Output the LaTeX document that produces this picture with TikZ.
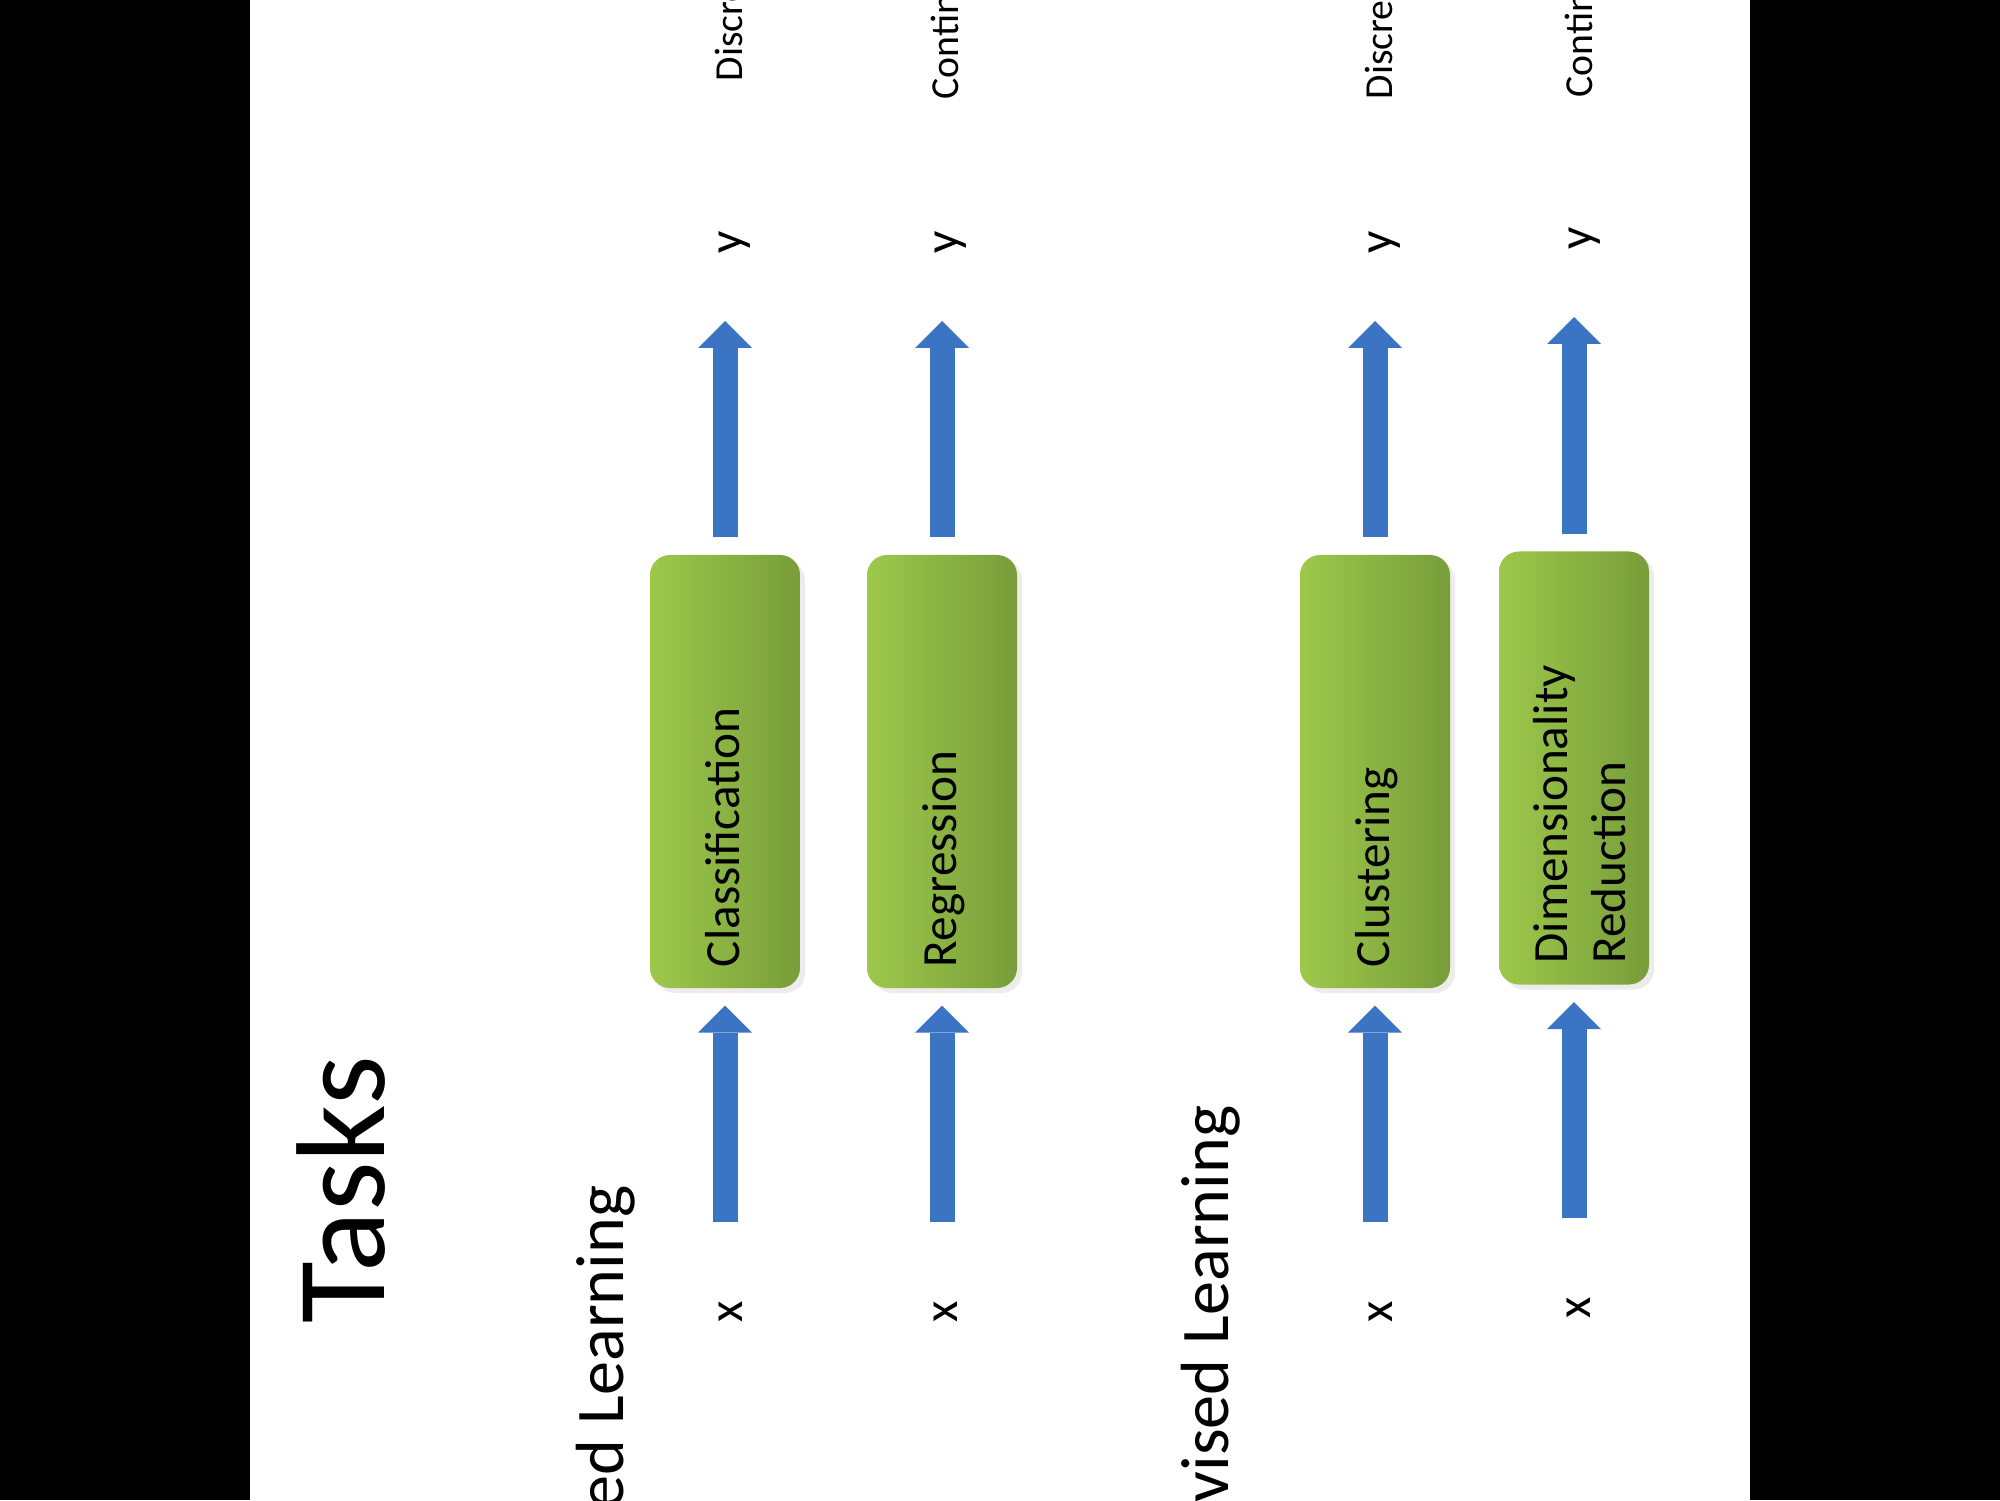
\documentclass[tikz,border=0pt]{standalone}
\usepackage{fontspec}
\setmainfont{Carlito}
\usetikzlibrary{arrows.meta, shadows}
\definecolor{boxGreenL}{HTML}{9DC84B}
\definecolor{boxGreenR}{HTML}{789D3A}
\definecolor{arrowBlue}{HTML}{3A74C2}
\tikzset{
  taskbox/.style={rectangle, rounded corners=2mm, rotate=90,
                  left color=boxGreenL, right color=boxGreenR, draw=none,
                  minimum width=4.33cm, minimum height=1.5cm, text width=3.91cm,
                  inner xsep=2.1mm, inner ysep=0pt, align=left,
                  text height=4mm, text depth=1.2mm,
                  font=\fontsize{14}{16.5}\selectfont,
                  drop shadow={shadow xshift=0.5mm, shadow yshift=-0.5mm, opacity=0.15}},
  blockarrow/.style={line width=2.5mm, draw=arrowBlue,
                     -{Triangle[width=5.4mm, length=2.7mm, line width=0pt]}},
  iolabel/.style={rotate=90, inner sep=0pt, font=\fontsize{14}{16}\selectfont},
  kindlabel/.style={rotate=90, inner sep=0pt, font=\fontsize{11.3}{13}\selectfont},
  heading/.style={rotate=90, inner sep=0pt, font=\fontsize{19.4}{23}\selectfont},
  slidetitle/.style={rotate=90, inner sep=0pt, font=\fontsize{36}{43}\selectfont},
}
\begin{document}
\begin{tikzpicture}
    \useasboundingbox (0,0) rectangle (20,15);
    \clip (0,0) rectangle (20,15);
    \fill[black] (0,0) rectangle (20,15);
    \fill[white] (2.5,0) rectangle (17.5,15);

    \node[slidetitle, anchor=base] (title) at (3.84,3.10) {Tasks};
    \node[heading, anchor=base east] (sup) at (6.23,3.15) {Supervised Learning};
    \node[heading, anchor=base east] (unsup) at (12.28,3.95) {Unsupervised Learning};

    \node[taskbox] (cls) at (7.25,7.285) {Classification};
    \node[taskbox] (reg) at (9.42,7.285) {Regression};
    \node[taskbox] (clu) at (13.75,7.285) {Clustering};
    \node[taskbox, text depth=5.4mm] (dim) at (15.74,7.32) {Dimensionality\\Reduction};

    \node[iolabel, anchor=base] (xcls) at (7.42,1.88) {x};
    \node[iolabel, anchor=base] (xreg) at (9.57,1.88) {x};
    \node[iolabel, anchor=base] (xclu) at (13.92,1.88) {x};
    \node[iolabel, anchor=base] (xdim) at (15.90,1.92) {x};

    \node[iolabel, anchor=base] (ycls) at (7.42,12.58) {y};
    \node[iolabel, anchor=base] (yreg) at (9.58,12.58) {y};
    \node[iolabel, anchor=base] (yclu) at (13.92,12.58) {y};
    \node[iolabel, anchor=base] (ydim) at (15.92,12.62) {y};

    \node[kindlabel, anchor=base west] (kcls) at (7.42,14.18) {Discrete};
    \node[kindlabel, anchor=base west] (kreg) at (9.58,14.00) {Continuous};
    \node[kindlabel, anchor=base west] (kclu) at (13.92,14.00) {Discrete};
    \node[kindlabel, anchor=base west] (kdim) at (15.92,14.02) {Continuous};

    \foreach \b in {cls,reg,clu,dim}{
      \draw[blockarrow, shorten <=9mm, shorten >=1.7mm] (\b.west |- x\b) -- (\b.west);
      \draw[blockarrow, shorten <=1.7mm, shorten >=7.9mm] (\b.east) -- (\b.east |- y\b);
    }
\end{tikzpicture}
\end{document}
